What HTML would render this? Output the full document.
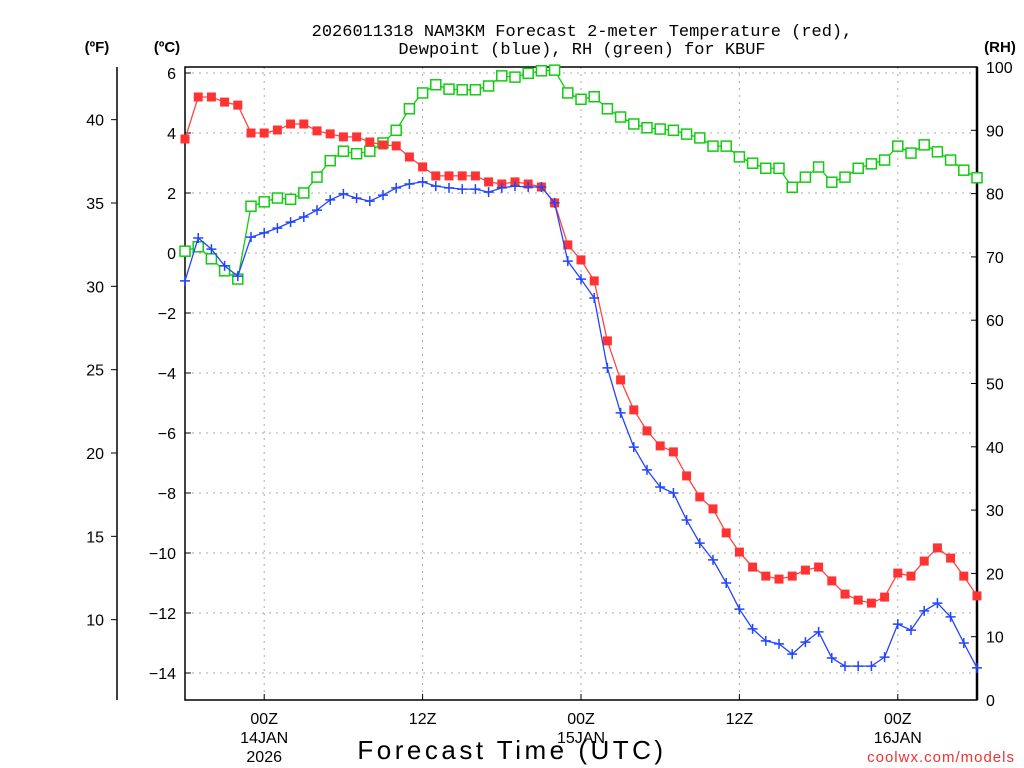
<!DOCTYPE html>
<html><head><meta charset="utf-8"><style>
html,body{margin:0;padding:0;background:#fff;}
svg{display:block;font-family:"Liberation Sans",sans-serif;}
</style></head><body>
<svg id="chart" width="1024" height="768" xmlns="http://www.w3.org/2000/svg">
<rect width="1024" height="768" fill="#fff"/>
<text x="582" y="36" font-size="17" text-anchor="middle" font-family="Liberation Mono, monospace">2026011318 NAM3KM Forecast 2-meter Temperature (red),</text>
<text x="582" y="54" font-size="17" text-anchor="middle" font-family="Liberation Mono, monospace">Dewpoint (blue), RH (green) for KBUF</text>
<text x="97" y="52" font-size="15" font-weight="bold" text-anchor="middle">(ºF)</text>
<text x="167" y="52" font-size="15" font-weight="bold" text-anchor="middle">(ºC)</text>
<text x="1000" y="52" font-size="15" font-weight="bold" text-anchor="middle">(RH)</text>
<text x="512" y="759" font-size="26" text-anchor="middle" letter-spacing="3.5">Forecast Time (UTC)</text>
<text x="1015" y="762" font-size="15" fill="#e33" text-anchor="end" letter-spacing="1">coolwx.com/models</text>
<g id="grid"></g><g id="axes"></g><g id="series"></g>
</svg>
<script>
const hours = Array.from({length:61},(_,i)=>i);
const temperature = [3.8,5.2,5.2,5.03,4.93,4.0,4.0,4.1,4.3,4.3,4.07,3.97,3.87,3.87,3.7,3.6,3.57,3.2,2.87,2.57,2.57,2.57,2.57,2.37,2.3,2.37,2.3,2.2,1.67,0.27,-0.23,-0.93,-2.93,-4.23,-5.23,-5.93,-6.43,-6.63,-7.43,-8.13,-8.53,-9.33,-9.97,-10.47,-10.77,-10.87,-10.77,-10.57,-10.47,-10.93,-11.37,-11.57,-11.67,-11.47,-10.67,-10.77,-10.27,-9.83,-10.17,-10.77,-11.43];
const dewpoint = [-0.93,0.5,0.13,-0.43,-0.77,0.53,0.67,0.83,1.03,1.2,1.43,1.77,1.97,1.83,1.73,1.93,2.17,2.3,2.37,2.23,2.17,2.13,2.13,2.03,2.17,2.23,2.2,2.2,1.67,-0.27,-0.87,-1.5,-3.83,-5.33,-6.47,-7.23,-7.8,-8.0,-8.9,-9.67,-10.23,-11.0,-11.87,-12.53,-12.93,-13.03,-13.37,-12.97,-12.63,-13.5,-13.77,-13.77,-13.77,-13.47,-12.37,-12.57,-11.93,-11.67,-12.13,-13.0,-13.83];
const rh = [70.9,71.6,69.7,67.8,66.5,78.0,78.7,79.3,79.1,80.1,82.6,85.2,86.7,86.3,86.7,88.0,90.0,93.4,95.9,97.2,96.5,96.4,96.4,97.0,98.6,98.4,99.0,99.4,99.5,95.9,94.9,95.3,93.4,92.1,91.0,90.4,90.2,90.0,89.4,88.8,87.5,87.5,85.8,84.8,84.0,84.0,81.0,82.6,84.2,81.8,82.6,84.0,84.7,85.3,87.5,86.4,87.7,86.6,85.3,83.7,82.5];
const celsiusTicks = [6,4,2,0,-2,-4,-6,-8,-10,-12,-14];
const fahrenheitTicks = [40,35,30,25,20,15,10];
const rhTicks = [100,90,80,70,60,50,40,30,20,10,0];
const timeTickHours = [6,18,30,42,54];
const timeTickLabels = [["00Z","14JAN","2026"],["12Z"],["00Z","15JAN"],["12Z"],["00Z","16JAN"]];

const L=185,R=977,T=67,B=700;
const xS=h=>L+(R-L)*h/60;
const yC=c=>253-30*c;
const yF=f=>yC((f-32)*5/9);
const yRH=v=>B-(B-T)*v/100;
const NS="http://www.w3.org/2000/svg";
function mk(tag,attrs,parent,txt){const e=document.createElementNS(NS,tag);for(const k in attrs)e.setAttribute(k,attrs[k]);if(txt!==undefined)e.textContent=txt;parent.appendChild(e);return e;}
const grid=document.getElementById('grid'),axes=document.getElementById('axes'),ser=document.getElementById('series');

celsiusTicks.forEach(c=>{
  const g=mk('line',{x1:L,x2:R,y1:yC(c),y2:yC(c),stroke:'#aaa','stroke-dasharray':'2,5'},grid);
  
  
  const t=mk('line',{x1:L,x2:L+6,y1:yC(c),y2:yC(c),stroke:'#000'},axes);
  
  
  const lb=mk('text',{x:176,y:yC(c)+6,'font-size':16,'text-anchor':'end'},axes,(c<0?'\u2212'+(-c):''+c));
  
  
});
fahrenheitTicks.forEach(f=>{
  const t=mk('line',{x1:117,x2:111,y1:yF(f),y2:yF(f),stroke:'#000'},axes);
  
  
  const lb=mk('text',{x:104,y:yF(f)+6,'font-size':16,'text-anchor':'end'},axes,''+f);
  
  
});
rhTicks.forEach(v=>{
  const t=mk('line',{x1:R,x2:R-6,y1:yRH(v),y2:yRH(v),stroke:'#000'},axes);
  
  
  const lb=mk('text',{x:986,y:yRH(v)+6,'font-size':16},axes,''+v);
  
  
});
timeTickHours.forEach((h,i)=>{
  const g=mk('line',{x1:xS(h),x2:xS(h),y1:T,y2:B,stroke:'#aaa','stroke-dasharray':'2,5'},grid);
  
  
  const t=mk('line',{x1:xS(h),x2:xS(h),y1:B,y2:B-6,stroke:'#000'},axes);
  
  
  timeTickLabels[i].forEach((s,j)=>{
    const lb=mk('text',{x:xS(h),y:724+j*19,'font-size':16,'text-anchor':'middle'},axes,s);
    
    
  });
});
const fr=mk('rect',{x:L,y:T,width:R-L,height:B-T,fill:'none',stroke:'#000','stroke-width':1.5},axes);


const rl=mk('line',{x1:R,x2:R,y1:T,y2:B,stroke:'#000','stroke-width':2.5},axes);


const fl=mk('line',{x1:117,x2:117,y1:T,y2:B,stroke:'#000','stroke-width':1.5},axes);



function pts(arr,fy){return arr.map((v,i)=>xS(hours[i])+','+fy(v)).join(' ');}
const gl=mk('polyline',{points:pts(rh,yRH),fill:'none',stroke:'#1c1','stroke-width':1.3},ser);


rh.forEach((v,i)=>{const m=mk('rect',{x:xS(hours[i])-5,y:yRH(v)-5,width:10,height:10,fill:'#fff',stroke:'#1c1','stroke-width':1.5},ser);
  
  });
const rlne=mk('polyline',{points:pts(temperature,yC),fill:'none',stroke:'#f44','stroke-width':1.3},ser);


temperature.forEach((v,i)=>{const m=mk('rect',{x:xS(hours[i])-4.5,y:yC(v)-4.5,width:9,height:9,fill:'#f33'},ser);
  
  });
const bl=mk('polyline',{points:pts(dewpoint,yC),fill:'none',stroke:'#24f','stroke-width':1.3},ser);


dewpoint.forEach((v,i)=>{const x=xS(hours[i]),y=yC(v);
  const m=mk('path',{d:`M${x-5},${y}H${x+5}M${x},${y-5}V${y+5}`,stroke:'#24f','stroke-width':1.5},ser);
  
  });
</script>
</body></html>
